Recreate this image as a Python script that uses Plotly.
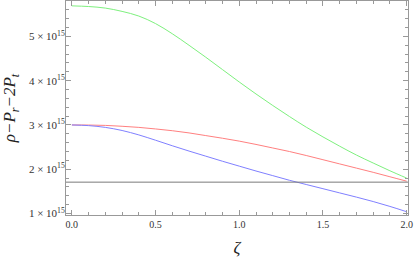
import plotly.graph_objects as go

zeta = [0.0, 0.1, 0.2, 0.3, 0.4, 0.5, 0.6, 0.7, 0.8, 0.9, 1.0,
        1.1, 1.2, 1.3, 1.4, 1.5, 1.6, 1.7, 1.8, 1.9, 2.0]
green = [5.69e15, 5.675e15, 5.64e15, 5.565e15, 5.46e15, 5.29e15, 5.06e15, 4.80e15, 4.53e15, 4.25e15, 3.97e15,
         3.70e15, 3.44e15, 3.19e15, 2.95e15, 2.73e15, 2.52e15, 2.32e15, 2.14e15, 1.965e15, 1.80e15]
red = [3.00e15, 2.998e15, 2.99e15, 2.97e15, 2.945e15, 2.91e15, 2.87e15, 2.82e15, 2.76e15, 2.70e15, 2.635e15,
       2.56e15, 2.48e15, 2.40e15, 2.31e15, 2.215e15, 2.12e15, 2.025e15, 1.93e15, 1.83e15, 1.73e15]
blue = [3.00e15, 2.985e15, 2.945e15, 2.875e15, 2.775e15, 2.655e15, 2.53e15, 2.41e15, 2.295e15, 2.18e15, 2.07e15,
        1.96e15, 1.855e15, 1.75e15, 1.655e15, 1.56e15, 1.465e15, 1.37e15, 1.27e15, 1.16e15, 1.04e15]
ref_level = 1.708e15

ytick_vals = [1e15, 2e15, 3e15, 4e15, 5e15]
ytick_text = ["1 × 10<sup>15</sup>", "2 × 10<sup>15</sup>", "3 × 10<sup>15</sup>", "4 × 10<sup>15</sup>", "5 × 10<sup>15</sup>"]
xtick_vals = [0.0, 0.5, 1.0, 1.5, 2.0]
xtick_text = ["0.0", "0.5", "1.0", "1.5", "2.0"]

SERIF = "Liberation Serif"

fig = go.Figure()
for ys, col in [(green, "#7ef07e"), (red, "#ff8080"), (blue, "#8080ff")]:
    fig.add_trace(go.Scatter(x=zeta, y=ys, mode="lines", line=dict(color=col, width=1, shape="spline", smoothing=1.0),
                             showlegend=False, hoverinfo="skip"))

fig.add_shape(type="line", xref="paper", x0=0, x1=1, yref="y", y0=ref_level, y1=ref_level,
              line=dict(color="#7a7a7a", width=1))

axis_common = dict(showline=True, linecolor="#999999", linewidth=1, mirror="allticks", ticks="inside",
                   tickcolor="#999999", ticklen=5, showgrid=False, zeroline=False,
                   ticklabeloverflow="allow")

fig.update_xaxes(range=[-0.035, 2.008], tickvals=xtick_vals, ticktext=xtick_text,
                 tickfont=dict(family=SERIF, size=10, color="#333333"),
                 minor=dict(ticks="inside", dtick=0.1, ticklen=3, tickcolor="#999999"),
                 ticklabelstandoff=0,
                 title=dict(text="<i>ζ</i>", font=dict(family=SERIF, size=17, color="#222222"), standoff=12),
                 **axis_common)
fig.update_yaxes(range=[0.966e15, 5.80e15], tickvals=ytick_vals, ticktext=ytick_text,
                 tickfont=dict(family=SERIF, size=11, color="#333333"),
                 minor=dict(ticks="inside", dtick=0.2e15, tick0=0, ticklen=3, tickcolor="#999999"),
                 ticklabelstandoff=-2,
                 title=dict(text="<i>ρ−P<sub>r</sub>−2P<sub>t</sub></i>",
                            font=dict(family=SERIF, size=17, color="#222222"), standoff=8),
                 **axis_common)

fig.update_layout(width=415, height=260, margin=dict(l=66, r=7, t=1, b=45),
                  plot_bgcolor="white", paper_bgcolor="white")
fig.write_html("out.html", config={"displayModeBar": False},
               post_script="document.body.style.margin='0';document.body.style.overflow='hidden';")
